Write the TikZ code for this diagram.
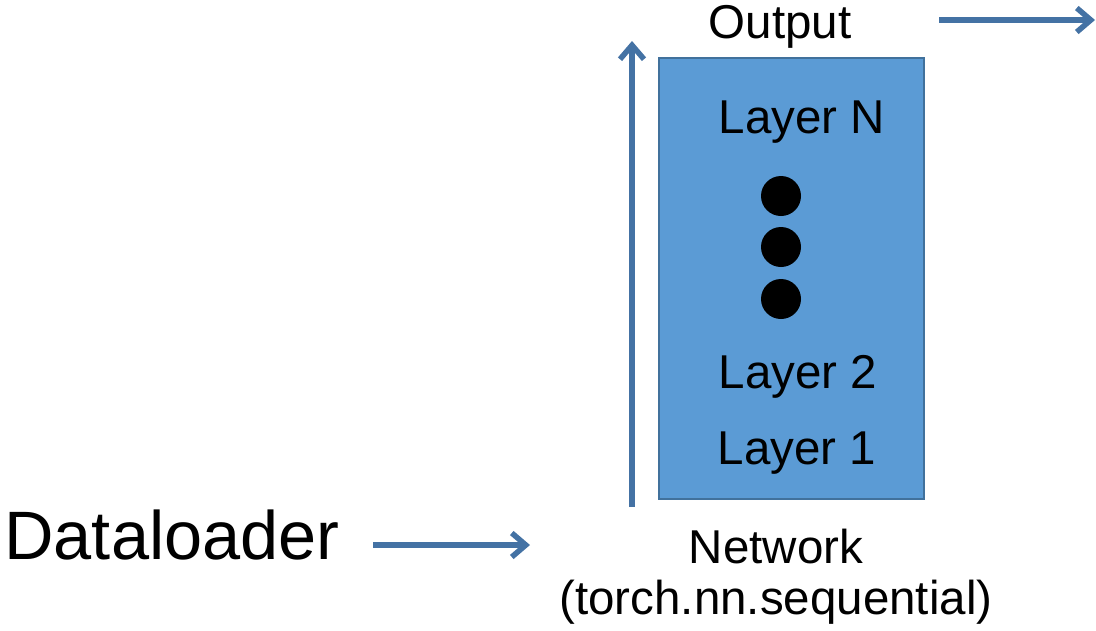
\documentclass[tikz,border=0pt]{standalone}
\usepackage{fontspec}
\setmainfont{Liberation Sans}
\usetikzlibrary{arrows.meta}
\definecolor{boxfill}{HTML}{5B9BD5}
\definecolor{boxedge}{HTML}{41719C}
\definecolor{flow}{HTML}{4472A4}
\begin{document}
\begin{tikzpicture}[x=1pt,y=-1pt,
  label47/.style={font=\fontsize{47.5}{56}\selectfont, inner sep=0pt, anchor=base},
  flowarrow/.style={draw=flow, line width=5.5pt, -{Straight Barb[length=14pt,width=24pt,line width=5.5pt]}},
  dot/.style={circle, fill=black, minimum size=40pt, inner sep=0pt}]
\useasboundingbox (0,0) rectangle (1096,630);
% network block
\node[draw=boxedge, fill=boxfill, line width=2pt, minimum width=265pt, minimum height=441pt, inner sep=0pt] (net) at (791.5,278.5) {};
\node[label47] (ln) at (802,133) {Layer N};
\node[dot] (d1) at (781,196) {};
\node[dot] (d2) at (781,247) {};
\node[dot] (d3) at (781,299) {};
\node[label47] (l2) at (798,388) {Layer 2};
\node[label47] (l1) at (797,464) {Layer 1};
% captions
\node[label47] (out) at (780,38) {Output};
\node[label47] (nw) at (776,563) {Network};
\node[label47] (seq) at (776,614) {(torch.nn.sequential)};
\node[font=\fontsize{68.5}{80}\selectfont, inner sep=0pt, anchor=base] (dl) at (172,559) {Dataloader};
% flow arrows
\coordinate (dlA) at (373,545);
\coordinate (dlB) at (530,545);
\coordinate (upA) at (632,507);
\coordinate (upB) at (632,41);
\coordinate (outA) at (939,20);
\coordinate (outB) at (1095,20);
\draw[flowarrow] (dlA) -- (dlB);
\draw[flowarrow] (upA) -- (upB);
\draw[flowarrow] (outA) -- (outB);
\end{tikzpicture}
\end{document}
